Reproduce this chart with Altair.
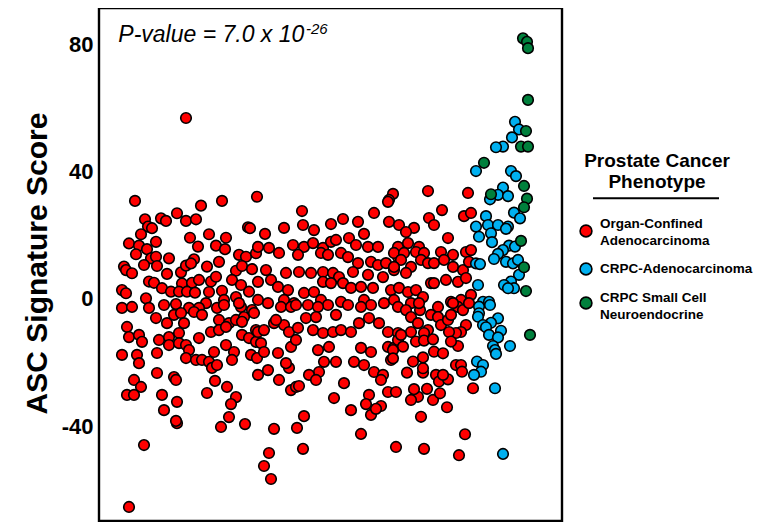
import altair as alt
import pandas as pd

# Sample rank (x) and ASC signature score (y) for each phenotype
red_points = [
    (87,57.0),(36,30.9),(102,29.4),(123,30.9),(158,32.2),(78,27.0),(62,25.4),(67,24.6),(46,25.1),(87,24.6),(97,25.1),
    (49,22.8),(53,22.3),(149,22.6),(151,22.3),(42,20.4),(110,20.4),(127,19.3),(57,18.0),(30,17.5),(91,19.3),(99,16.5),
    (117,16.8),(126,15.7),(40,16.8),(48,15.7),(37,14.1),(70,12.8),(95,12.5),(140,13.9),(147,13.3),(157,14.4),(52,12.8),
    (57,13.3),(25,10.2),(27,9.1),(33,8.1),(45,10.7),(58,10.4),(68,7.9),(82,8.4),(87,10.5),(92,11.2),(108,10.2),(120,11.7),
    (137,8.9),(143,10.4),(153,9.4),(50,5.5),(55,5.1),(83,4.9),(93,5.1),(100,6.0),(112,5.5),(117,7.0),(123,2.6),(133,6.0),
    (142,4.4),(150,2.3),(23,2.8),(27,1.8),(63,3.4),(72,2.3),(80,2.3),(88,2.3),(96,2.0),(47,0.2),
    (23,-2.8),(33,-2.5),(50,-2.8),(65,-1.9),(77,-1.6),(90,-2.8),(107,-1.3),(110,2.2),(125,-0.3),(137,0.6),(142,-2.5),
    (153,-3.5),(100,-2.8),(57,-6.0),(68,-7.6),(75,-5.0),(82,-4.4),(85,-7.6),(95,-4.1),(103,-5.0),(120,-6.6),(118,-2.8),
    (130,-7.6),(137,-6.6),(145,-5.7),(140,-1.3),(125,-1.9),
    (28,-8.8),(30,-12.0),(40,-11.3),(43,-13.5),(23,-17.6),(38,-17.6),(40,-20.2),(58,-17.0),(60,-12.9),(70,-12.0),(80,-10.7),
    (70,-14.5),(80,-13.9),(87,-14.5),(90,-16.1),(100,-12.3),(87,-18.6),(97,-19.2),(103,-19.2),(110,-19.8),(115,-16.7),
    (113,-21.7),(118,-20.8),(112,-10.4),(120,-9.8),(127,-8.8),(135,-16.7),(133,-19.2),(127,-14.5),(143,-11.3),(150,-12.3),
    (157,-13.5),(152,-17.6),(158,-18.6),(143,-7.2),(157,-9.8),
    (58,-23.3),(75,-24.6),(77,-25.5),(35,-25.5),(42,-27.7),(28,-30.2),(35,-30.2),(63,-30.2),(78,-32.4),(65,-35.0),(78,-39.1),
    (77,-38.4),(108,-29.6),(116,-25.8),(128,-27.7),(137,-30.9),(132,-33.1),(130,-37.2),(122,-40.3),(146,-39.4),(45,-46.0),
    (30,-65.5),
    (203,27.7),(294,33.1),(290,31.2),(289,30.6),(275,27.1),(244,25.2),(232,23.6),(259,24.3),(204,23.3),(215,21.7),(185,22.4),
    (290,24.3),(300,23.3),(265,20.5),(166,20.5),(194,17.0),(205,16.4),(214,17.6),(224,16.1),(232,18.0),(237,18.6),(250,19.2),
    (257,17.0),(269,16.4),(279,16.4),(159,16.4),(170,16.1),(180,14.5),(199,13.9),(222,14.5),(229,13.9),(242,14.5),(249,13.2),
    (259,11.3),(272,11.7),(279,10.7),(287,11.3),(299,16.4),(299,13.2),
    (167,9.1),(187,8.2),(200,8.5),(212,8.2),(224,8.5),(234,8.2),(240,6.9),(254,8.5),(269,7.6),(284,6.9),(295,9.1),(159,5.4),
    (172,6.0),(179,3.8),(189,2.8),(205,1.9),(215,2.2),(224,5.4),(232,5.0),(244,5.0),(252,3.5),(262,3.8),(274,3.5),(292,2.8),
    (300,3.5),(159,-0.3),(169,-1.3),(185,-0.3),(195,-1.3),(209,-1.9),(222,-0.3),(229,-1.9),(242,-0.9),(249,-1.9),(265,-0.3),
    (272,-1.9),(285,-1.3),(295,-0.3),
    (155,-4.4),(182,-2.5),(192,-2.5),(197,-1.9),(219,-2.5),(262,-2.5),(299,-2.5),
    (159,-10.4),(165,-9.8),(175,-7.6),(185,-8.2),(190,-10.4),(199,-9.1),(207,-6.0),(214,-9.8),(224,-10.7),(234,-10.4),
    (242,-9.8),(252,-10.4),(260,-7.6),(270,-6.0),(280,-7.6),(289,-10.4),(299,-10.7),(177,-6.6),(217,-5.7),(237,-5.0),
    (162,-13.9),(165,-16.7),(179,-17.0),(192,-15.1),(197,-12.9),(219,-16.1),(230,-15.1),(237,-19.8),(225,-19.8),(220,-23.0),
    (210,-23.9),(217,-25.5),(190,-21.7),(187,-20.2),(169,-22.4),(159,-23.9),(180,-25.5),(262,-15.4),(272,-16.7),(255,-19.8),
    (265,-20.8),(275,-23.0),(284,-23.9),(282,-25.5),(289,-15.1),(295,-15.4),(299,-12.9),(292,-19.2),
    (192,-28.7),(197,-27.7),(200,-27.4),(245,-26.5),(235,-31.2),(252,-35.0),(270,-30.2),(267,-33.1),(272,-36.5),(282,-33.7),
    (277,-34.6),(289,-29.3),(297,-29.3),(205,-36.9),(198,-40.6),(175,-40.9),(170,-48.5),(165,-52.6),(172,-56.7),(204,-47.2),
    (262,-42.5),(297,-46.6),
    (329,34.0),(369,33.4),(343,28.0),(365,26.1),(372,27.1),(330,25.5),(335,23.3),(315,22.4),(307,21.1),(349,19.2),
    (309,17.6),(320,16.4),(295,14.5),(305,14.5),(317,14.8),(325,14.5),(342,14.8),(354,13.9),(367,14.8),(372,15.4),
    (302,12.3),(312,10.1),(322,12.3),(307,8.2),(329,11.3),(335,11.3),(345,12.3),(354,10.1),(364,9.1),(370,11.7),(332,5.0),
    (335,5.0),(347,6.0),(359,5.4),(367,6.6),(295,10.1),(309,2.2),(317,2.8),(324,0.6),(352,-0.9),(362,-0.3),(372,1.3),
    (359,-2.5),(339,-2.5),(312,-1.3),
    (307,-3.5),(312,-5.7),(321,-3.5),(320,-1.3),(332,-5.0),(339,-5.7),(342,-8.2),(349,-6.6),(352,-5.0),(354,-1.3),(364,-3.5),
    (367,-8.2),(370,-1.3),(362,-10.4),(357,-10.7),(350,-10.4),(329,-9.8),(325,-10.7),(319,-7.6),(312,-10.4),(302,-11.3),
    (317,-13.4),(325,-13.1),(334,-12.7),(304,-15.0),(294,-16.1),(294,-18.7),(359,-14.8),(352,-13.4),(335,-16.6),(344,-17.1),
    (357,-20.8),(362,-20.8),(363,-22.9),(308,-23.2),(324,-23.2),(324,-21.8),(314,-19.7),(324,-18.4),(337,-23.9),(340,-26.0),
    (349,-25.3),(344,-23.9),(334,-31.8),(341,-29.7),(328,-28.3),(319,-30.8),(312,-31.8),(315,-28.4),(322,-37.1),(348,-34.1),
    (374,-28.1),(366,-42.6),(360,-49.2),(325,-47.2),
]

blue_points = [
    (416,55.8),(420,53.4),(413,50.9),(404,48.0),(397,47.8),(377,40.3),(412,40.3),(417,38.7),(404,35.1),(399,32.8),(409,32.4),
    (391,31.4),(415,27.2),(421,25.4),(387,26.1),(389,23.3),(377,22.8),(399,23.3),(409,22.8),(407,22.1),(392,20.7),(380,19.6),
    (393,17.9),(410,16.8),(416,16.5),(404,15.4),(399,14.2),(395,12.6),(407,11.7),(414,11.2),(419,12.3),(377,11.2),(381,11.0),
    (420,7.6),(412,5.5),(405,4.4),(415,3.4),(409,3.4),(379,4.4),(384,-0.9),(390,-0.9),(380,-2.4),(391,-1.9),(380,-4.5),
    (379,-5.6),(399,-6.1),(392,-7.5),(384,-8.2),(387,-8.9),(402,-10.0),(390,-11.3),(399,-12.1),(411,-14.8),(394,-14.8),
    (396,-16.1),(397,-17.3),(378,-19.7),(384,-20.8),(382,-22.9),(375,-23.9),(396,-28.1),(404,-48.8),
]

green_points = [
    (424,82.1),(428,81.0),(429,79.0),(429,62.7),(427,52.9),(422,48.0),(429,48.0),(385,42.9),(425,35.6),(392,33.0),
    (428,31.6),(425,28.9),(422,18.3),(425,10.0),(427,2.5),(431,-11.3),
]

groups = ["Organ-Confined Adenocarcinoma", "CRPC-Adenocarcinoma", "CRPC Small Cell Neuroendocrine"]
colors = ["#FF0000", "#00B0F0", "#00803C"]
legend_colors = ["#F23A1A", "#00B0F0", "#00803C"]
legend_lines = [["Organ-Confined", "Adenocarcinoma"], ["CRPC-Adenocarcinoma"], ["CRPC Small Cell", "Neuroendocrine"]]
y_ticks = [-40, 0, 40, 80]

rows = []
for k, (g, pts) in enumerate(zip(groups, [red_points, blue_points, green_points])):
    for r, s in pts:
        rows.append({"rank": r, "score": s, "group": g, "layer": k})
df = pd.DataFrame(rows)

FONT = "Liberation Sans"

points = alt.Chart(df).mark_circle(
    size=112, stroke="black", strokeWidth=1.6, opacity=1
).encode(
    x=alt.X("rank:Q", scale=alt.Scale(domain=[0, 463], nice=False, zero=False), axis=None),
    y=alt.Y(
        "score:Q",
        scale=alt.Scale(domain=[-69.92, 91.65], nice=False, zero=False),
        axis=alt.Axis(
            values=y_ticks, ticks=False, tickSize=0, domain=False, grid=False,
            labelExpr="'' + datum.value",
            labelFont=FONT, labelFontSize=22, labelFontWeight="bold", labelColor="black",
            labelPadding=6,
            title="ASC Signature Score", titleFont=FONT, titleFontSize=30, titleFontWeight="bold",
            titleColor="black", titleX=-62, titleY=255, titleAngle=270, titleAlign="center",
            titleBaseline="middle",
        ),
    ),
    color=alt.Color("group:N", scale=alt.Scale(domain=groups, range=colors), legend=None),
    order=alt.Order("layer:Q"),
)

# P-value annotation
pval = alt.Chart(pd.DataFrame({"t": ["P-value = 7.0 x 10"]})).mark_text(
    font=FONT, fontSize=23, fontStyle="italic", align="left", baseline="alphabetic", color="black"
).encode(x=alt.value(19.3), y=alt.value(33.7), text="t:N")
pexp = alt.Chart(pd.DataFrame({"t": ["-26"]})).mark_text(
    font=FONT, fontSize=15, fontStyle="italic", align="left", baseline="alphabetic", color="black"
).encode(x=alt.value(207), y=alt.value(26), text="t:N")

# Custom legend
leg_title = alt.Chart(pd.DataFrame({"t": ["Prostate Cancer", "Phenotype"], "yy": [158.7, 179.7]})).mark_text(
    font=FONT, fontSize=19, fontWeight="bold", align="center", baseline="alphabetic", color="black"
).encode(x=alt.value(558), y=alt.Y("yy:Q", scale=None), text="t:N")
leg_rule = alt.Chart(pd.DataFrame({"a": [0]})).mark_rule(color="black", strokeWidth=2).encode(
    x=alt.value(494), x2=alt.value(620), y=alt.value(190.3)
)
leg_sym = alt.Chart(pd.DataFrame({"g": groups, "yy": [223, 261, 295]})).mark_circle(
    size=140, stroke="black", strokeWidth=1.6, opacity=1
).encode(
    x=alt.value(487), y=alt.Y("yy:Q", scale=None),
    color=alt.Color("g:N", scale=alt.Scale(domain=groups, range=legend_colors), legend=None),
)
lab_rows = []
lab_y = [[216, 233], [261], [289.5, 306.5]]
for lines, ys in zip(legend_lines, lab_y):
    for t, yv in zip(lines, ys):
        lab_rows.append({"t": t, "yy": yv})
leg_labels = alt.Chart(pd.DataFrame(lab_rows)).mark_text(
    font=FONT, fontSize=13.5, fontWeight="bold", align="left", baseline="middle", color="black"
).encode(x=alt.value(501), y=alt.Y("yy:Q", scale=None), text="t:N")

chart = alt.layer(points, pval, pexp, leg_title, leg_rule, leg_sym, leg_labels).properties(
    width=463, height=513,
    autosize=alt.AutoSizeParams(type="none"),
    padding={"left": 91, "top": 0, "right": 196, "bottom": 1},
    background="white",
).configure_view(stroke="black", strokeWidth=2.4)

chart.save("out.html", embed_options={"renderer": "svg", "actions": False})
